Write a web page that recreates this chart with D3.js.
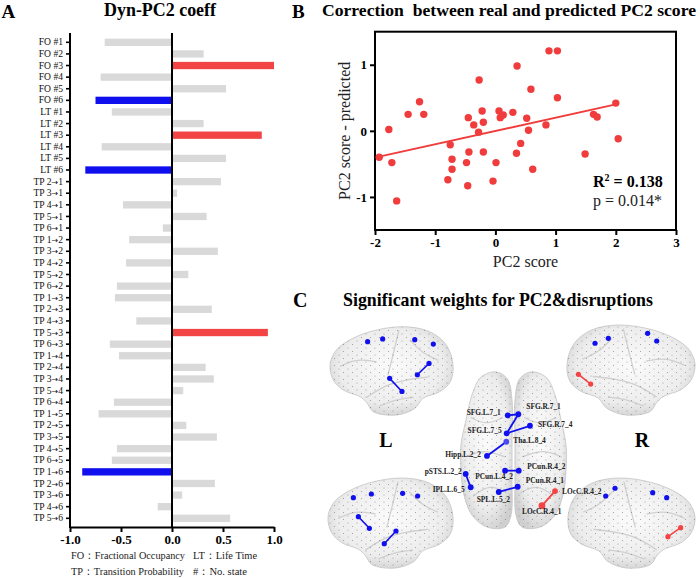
<!DOCTYPE html>
<html>
<head>
<meta charset="utf-8">
<script src="https://cdn.jsdelivr.net/npm/d3@7"></script>
<style>
  body { margin: 0; background: #fff; }
  svg { display: block; font-family: "Liberation Serif", "Times New Roman", serif; }
</style>
</head>
<body>
<div id="chart"></div>
<script>
// ---- Panel A data ----
const coeffLabels = [
    "FO #1", "FO #2", "FO #3", "FO #4", "FO #5", "FO #6",
    "LT #1", "LT #2", "LT #3", "LT #4", "LT #5", "LT #6",
    "TP 2→1", "TP 3→1", "TP 4→1", "TP 5→1", "TP 6→1",
    "TP 1→2", "TP 3→2", "TP 4→2", "TP 5→2", "TP 6→2",
    "TP 1→3", "TP 2→3", "TP 4→3", "TP 5→3", "TP 6→3",
    "TP 1→4", "TP 2→4", "TP 3→4", "TP 5→4", "TP 6→4",
    "TP 1→5", "TP 2→5", "TP 3→5", "TP 4→5", "TP 6→5",
    "TP 1→6", "TP 2→6", "TP 3→6", "TP 4→6", "TP 5→6"
];
const coeffValues = [
    -0.66, 0.31, 1.00, -0.70, 0.53, -0.75,
    -0.59, 0.31, 0.88, -0.69, 0.53, -0.85,
    0.48, 0.05, -0.48, 0.34, -0.09,
    -0.42, 0.45, -0.45, 0.16, -0.54,
    -0.56, 0.39, -0.35, 0.94, -0.61,
    -0.52, 0.33, 0.41, 0.11, -0.57,
    -0.72, 0.14, 0.44, -0.54, -0.59,
    -0.88, 0.42, 0.10, -0.14, 0.57
];
// "pos" = significant positive, "neg" = significant negative
const coeffSig = [
    "", "", "pos", "", "", "neg",
    "", "", "pos", "", "", "neg",
    "", "", "", "", "",
    "", "", "", "", "",
    "", "", "", "pos", "",
    "", "", "", "", "",
    "", "", "", "", "",
    "neg", "", "", "", ""
];
const coeffTicks = [-1, -0.5, 0, 0.5, 1];

// ---- Panel B data ----
const pc2Score = [
    -1.93, -1.77, -1.72, -1.64, -1.45, -1.26, -1.19, -0.79, -0.75, -0.72,
    -0.72, -0.48, -0.46, -0.45, -0.44, -0.36, -0.28, -0.27, -0.22, -0.20,
    -0.20, -0.04, 0.01, 0.06, 0.08, 0.13, 0.29, 0.35, 0.36, 0.42,
    0.52, 0.55, 0.59, 0.62, 0.84, 0.89, 1.03, 1.03, 1.49, 1.63,
    1.69, 2.00, 2.04
];
const pc2Diff = [
    -0.40, 0.02, -0.48, -1.06, 0.25, 0.44, 0.25, -0.74, -0.21, -0.43,
    -0.58, -0.48, -0.83, 0.20, -0.32, 0.09, -0.02, 0.77, 0.30, 0.13,
    -0.32, -0.76, -0.48, 0.30, 0.20, 0.24, 0.28, -0.34, 0.98, -0.19,
    0.19, 0.01, 0.63, -0.58, 0.09, 1.21, 1.21, 0.50, -0.35, 0.25,
    0.21, 0.42, -0.12
];
const fitX = [-1.93, 2.00];
const fitY = [-0.39, 0.40];
const scatterXTicks = [-2, -1, 0, 1, 2, 3];
const scatterYTicks = [-1, 0, 1];

// ---- Panel C data (positions normalised to each brain view) ----
const lateralOutline = [
    [0, 0.434], [0.041, 0.283], [0.135, 0.170], [0.324, 0.057], [0.595, 0],
    [0.811, 0.057], [0.946, 0.208], [1, 0.434], [0.978, 0.623], [0.892, 0.736],
    [0.757, 0.811], [0.689, 0.925], [0.541, 1], [0.351, 0.962], [0.297, 0.857],
    [0.243, 0.792], [0.108, 0.717], [0.027, 0.604]
];
const lateralSulci = [
    [[0.30, 0.80], [0.45, 0.66], [0.62, 0.60], [0.80, 0.57]],
    [[0.56, 0.04], [0.52, 0.28], [0.47, 0.55]],
    [[0.08, 0.45], [0.22, 0.36], [0.38, 0.40]],
    [[0.65, 0.15], [0.75, 0.30], [0.88, 0.38]],
    [[0.40, 0.90], [0.55, 0.82], [0.68, 0.80]]
];
const topOutline = [
    [0.299, 0.013], [0.187, 0.051], [0.112, 0.158], [0.056, 0.316], [0.009, 0.475],
    [0.009, 0.633], [0.037, 0.791], [0.112, 0.918], [0.252, 0.994], [0.421, 0.994],
    [0.477, 0.918], [0.486, 0.696], [0.486, 0.443], [0.486, 0.190], [0.449, 0.063],
    [0.374, 0.019]
];
const topSulci = [
    [[0.10, 0.30], [0.25, 0.35], [0.40, 0.30]],
    [[0.05, 0.55], [0.22, 0.50], [0.42, 0.55]],
    [[0.12, 0.80], [0.28, 0.72], [0.44, 0.78]]
];
const lateralViews = ["TL", "TR", "BL", "BR"];
const viewMirror = { TL: false, TR: true, BL: false, BR: true };
const lateralNodes = {
    TL: [[0.306, 0.170], [0.428, 0.139], [0.689, 0.147], [0.840, 0.197]],
    TR: [[0.219, 0.203], [0.323, 0.148], [0.630, 0.092], [0.701, 0.178]],
    BL: [[0.203, 0.219], [0.347, 0.178], [0.597, 0.170], [0.717, 0.200]],
    BR: [[0.297, 0.200], [0.370, 0.114], [0.667, 0.163], [0.777, 0.219]]
};
const lateralEdges = {
    TL: [[[0.805, 0.416], [0.710, 0.544], "neg"], [[0.485, 0.585], [0.585, 0.733], "neg"]],
    TR: [[[0.089, 0.548], [0.185, 0.656], "pos"]],
    BL: [[[0.243, 0.430], [0.331, 0.559], "neg"], [[0.544, 0.589], [0.450, 0.730], "neg"]],
    BR: [[[0.887, 0.552], [0.787, 0.652], "pos"]]
};
const regionNames = [
    "SFG.L.7_1", "SFG.R.7_1", "SFG.R.7_4", "SFG.L.7_5", "Tha.L.8_4", "Hipp.L.2_2",
    "pSTS.L.2_2", "IPL.L.6_5", "PCun.L.4_2", "PCun.R.4_2", "PCun.R.4_1", "SPL.L.5_2",
    "LOcC.R.4_2", "LOcC.R.4_1"
];
const regionX = [0.446, 0.545, 0.654, 0.436, 0.433, 0.252, 0.053, 0.100, 0.421, 0.549, 0.539, 0.362, 0.888, 0.766];
const regionY = [0.287, 0.280, 0.353, 0.401, 0.454, 0.544, 0.658, 0.742, 0.637, 0.637, 0.739, 0.772, 0.766, 0.859];
const regionSign = ["neg", "neg", "neg", "neg", "neg", "neg", "neg", "neg", "neg", "neg", "neg", "neg", "pos", "pos"];
const regionLinks = [
    ["SFG.L.7_1", "SFG.R.7_1"], ["SFG.R.7_1", "SFG.L.7_5"], ["SFG.L.7_5", "SFG.R.7_4"],
    ["Tha.L.8_4", "Hipp.L.2_2"], ["pSTS.L.2_2", "IPL.L.6_5"], ["PCun.L.4_2", "PCun.R.4_2"],
    ["SPL.L.5_2", "PCun.R.4_1"], ["LOcC.R.4_2", "LOcC.R.4_1"]
];
// label offsets in px and anchor
const labelPlace = {
    "SFG.L.7_1": [-7, 0, "end"], "SFG.R.7_1": [8, -5, "start"], "SFG.R.7_4": [8, 1, "start"],
    "SFG.L.7_5": [-5, 0, "end"], "Tha.L.8_4": [7, 1, "start"], "Hipp.L.2_2": [-6, 1.5, "end"],
    "pSTS.L.2_2": [-4, 0, "end"], "IPL.L.6_5": [-6, 4.5, "end"], "PCun.L.4_2": [-11, 8.5, "middle"],
    "PCun.R.4_2": [8.5, -1.5, "start"], "PCun.R.4_1": [8, -4, "start"], "SPL.L.5_2": [-22, 10, "start"],
    "LOcC.R.4_2": [7, 3, "start"], "LOcC.R.4_1": [-20, 8.5, "start"]
};

const colors = {
    pos: "#f24444",
    neg: "#1010ee",
    plain: "#d9d9d9",
    dot: "#f03c3c"
};

const svg = d3.select("#chart")
    .append("svg")
    .attr("width", 700)
    .attr("height", 578);

// helper: text squeezed/stretched to the width it has in the figure
function fitText(g, x, y, str, size, width, bold) {
    return g.append("text")
        .attr("x", x).attr("y", y)
        .attr("textLength", width)
        .attr("lengthAdjust", "spacingAndGlyphs")
        .attr("font-size", size)
        .attr("font-weight", bold ? "bold" : "normal")
        .text(str);
}

// =============== Panel A ===============
const xA = d3.scaleLinear().domain([-1, 1]).range([70, 274]);
const yA = d3.scaleBand()
    .domain(coeffLabels)
    .range([36.5, 524.1])
    .paddingInner(0.37)
    .paddingOuter(0.185);

const panelA = svg.append("g");

panelA.append("text")
    .attr("x", 1.5).attr("y", 17.5)
    .style("font-size", "19px").style("font-weight", "bold")
    .text("A");

fitText(panelA, 104, 16, "Dyn-PC2 coeff", 18, 112, true);

// bars
panelA.selectAll(".bar")
    .data(coeffValues)
    .enter()
    .append("rect")
    .attr("class", "bar")
    .attr("x", d => xA(Math.min(0, d)))
    .attr("y", (d, i) => yA(coeffLabels[i]))
    .attr("width", d => Math.abs(xA(d) - xA(0)))
    .attr("height", yA.bandwidth())
    .attr("fill", (d, i) => coeffSig[i] ? colors[coeffSig[i]] : colors.plain);

// y axis
const yAxisA = panelA.append("g")
    .attr("transform", `translate(${xA(-1)},0)`)
    .call(d3.axisLeft(yA).tickSize(4).tickSizeOuter(0).tickPadding(3));
yAxisA.select(".domain").remove();
yAxisA.selectAll("line").attr("stroke", "#000").attr("stroke-width", 1.6);
yAxisA.selectAll("text")
    .style("font-family", "Liberation Serif")
    .style("font-size", "9.6px")
    .attr("fill", "#111")
    .each(function(d) {
        // the arrow glyph is drawn with a font that has it
        const parts = d.split("→");
        if (parts.length < 2) return;
        const t = d3.select(this).text(null);
        t.append("tspan").text(parts[0]);
        t.append("tspan").style("font-family", "DejaVu Sans").style("font-size", "8px").text("→");
        t.append("tspan").text(parts[1]);
    });

panelA.append("line")
    .attr("x1", xA(-1)).attr("x2", xA(-1))
    .attr("y1", 33).attr("y2", 528)
    .attr("stroke", "#000").attr("stroke-width", 2);

// zero line
panelA.append("line")
    .attr("x1", xA(0)).attr("x2", xA(0))
    .attr("y1", 33).attr("y2", 527)
    .attr("stroke", "#000").attr("stroke-width", 2);

// x axis
const xAxisA = panelA.append("g")
    .attr("transform", "translate(0,527)")
    .call(d3.axisBottom(xA).tickValues(coeffTicks).tickFormat(d => d.toFixed(1)).tickSize(5).tickSizeOuter(0));
xAxisA.select(".domain").attr("stroke-width", 2);
xAxisA.selectAll("line").attr("stroke-width", 2);
xAxisA.selectAll("text")
    .style("font-family", "Liberation Serif")
    .style("font-size", "13px")
    .style("font-weight", "bold")
    .attr("fill", "#000");

// abbreviations
const noteText = ["FO：Fractional Occupancy", "LT：Life Time", "TP：Transition Probability", "#：No. state"];
const noteWidth = [114, 64, 113, 54];
noteText.forEach((t, i) => {
    fitText(panelA, i % 2 === 0 ? 71 : 193, 559 + Math.floor(i / 2) * 16, t, 10.5, noteWidth[i], false)
        .attr("fill", "#222");
});

// =============== Panel B ===============
const xB = d3.scaleLinear().domain([-2, 3]).range([375, 676]);
const yB = d3.scaleLinear().domain([-1.5, 1.5]).range([230, 31.7]);
const panelB = svg.append("g");

panelB.append("text")
    .attr("x", 292).attr("y", 17.5)
    .style("font-size", "19px").style("font-weight", "bold")
    .text("B");

fitText(panelB, 322, 16, "Correction\u00a0 between real and predicted PC2 score", 17, 374, true);

panelB.append("rect")
    .attr("x", xB(-2)).attr("y", yB(1.5))
    .attr("width", xB(3) - xB(-2)).attr("height", yB(-1.5) - yB(1.5))
    .attr("fill", "none").attr("stroke", "#000").attr("stroke-width", 2);

const xAxisB = panelB.append("g")
    .attr("transform", `translate(0,${yB(-1.5)})`)
    .call(d3.axisBottom(xB).tickValues(scatterXTicks).tickFormat(d => String(d)).tickSize(5).tickSizeOuter(0));
const yAxisB = panelB.append("g")
    .attr("transform", `translate(${xB(-2)},0)`)
    .call(d3.axisLeft(yB).tickValues(scatterYTicks).tickFormat(d => String(d)).tickSize(5).tickSizeOuter(0));
[xAxisB, yAxisB].forEach(ax => {
    ax.select(".domain").remove();
    ax.selectAll("line").attr("stroke-width", 2);
    ax.selectAll("text")
        .style("font-family", "Liberation Serif")
        .style("font-size", "13px")
        .style("font-weight", "bold")
        .attr("fill", "#000");
});

panelB.append("text")
    .attr("x", (xB(-2) + xB(3)) / 2).attr("y", 267)
    .attr("text-anchor", "middle")
    .style("font-size", "16px")
    .attr("fill", "#222")
    .text("PC2 score");

panelB.append("text")
    .attr("transform", `translate(350,${(yB(-1.5) + yB(1.5)) / 2}) rotate(-90)`)
    .attr("text-anchor", "middle")
    .style("font-size", "16px")
    .attr("fill", "#222")
    .text("PC2 score - predicted");

// fit line
panelB.append("line")
    .attr("x1", xB(fitX[0])).attr("y1", yB(fitY[0]))
    .attr("x2", xB(fitX[1])).attr("y2", yB(fitY[1]))
    .attr("stroke", colors.dot).attr("stroke-width", 1.8);

panelB.selectAll(".dot")
    .data(pc2Score)
    .enter()
    .append("circle")
    .attr("class", "dot")
    .attr("cx", d => xB(d))
    .attr("cy", (d, i) => yB(pc2Diff[i]))
    .attr("r", 3.7)
    .attr("fill", colors.dot);

const r2 = panelB.append("text")
    .attr("x", 593).attr("y", 187)
    .style("font-size", "16px").style("font-weight", "bold");
r2.append("tspan").text("R");
r2.append("tspan").attr("dy", -6).style("font-size", "10px").text("2");
r2.append("tspan").attr("dy", 6).text(" = 0.138");

panelB.append("text")
    .attr("x", 593).attr("y", 206)
    .style("font-size", "16px")
    .attr("fill", "#222")
    .text("p = 0.014*");

// =============== Panel C ===============
const panelC = svg.append("g");

panelC.append("text")
    .attr("x", 293).attr("y", 307)
    .style("font-size", "20px").style("font-weight", "bold")
    .text("C");

fitText(panelC, 343, 306, "Significant weights for PC2&disruptions", 17.8, 310, true);

panelC.append("text")
    .attr("x", 386).attr("y", 447)
    .attr("text-anchor", "middle")
    .style("font-size", "20px").style("font-weight", "bold")
    .text("L");
panelC.append("text")
    .attr("x", 642).attr("y", 447)
    .attr("text-anchor", "middle")
    .style("font-size", "20px").style("font-weight", "bold")
    .text("R");

const defs = svg.append("defs");
const grad = defs.append("radialGradient")
    .attr("id", "brainGrad")
    .attr("cx", "50%").attr("cy", "45%").attr("r", "60%");
grad.append("stop").attr("offset", "0%").attr("stop-color", "#fbfbfb");
grad.append("stop").attr("offset", "70%").attr("stop-color", "#ededed");
grad.append("stop").attr("offset", "100%").attr("stop-color", "#cfcfcf");

const dots = defs.append("pattern")
    .attr("id", "brainDots")
    .attr("patternUnits", "userSpaceOnUse")
    .attr("width", 9).attr("height", 7);
dots.append("circle").attr("cx", 1.5).attr("cy", 1.5).attr("r", 0.5).attr("fill", "#6a6a6a");
dots.append("circle").attr("cx", 6).attr("cy", 5).attr("r", 0.5).attr("fill", "#6a6a6a");

// view boxes for each brain [x0, x1, y0, y1]
const viewBoxes = {
    TL: [330, 453, 326.7, 415],
    TR: [567, 695, 325, 415],
    BL: [328, 453, 478, 568],
    BR: [568, 695, 478, 568],
    TOP: [460, 567, 370, 528]
};

function viewScales(key, mirror) {
    const b = viewBoxes[key];
    const sx = d3.scaleLinear().domain(mirror ? [1, 0] : [0, 1]).range([b[0], b[1]]);
    const sy = d3.scaleLinear().domain([0, 1]).range([b[2], b[3]]);
    return [sx, sy];
}

function drawShell(g, pts, sulci, sx, sy) {
    const shape = d3.line().x(p => sx(p[0])).y(p => sy(p[1])).curve(d3.curveCatmullRomClosed);
    g.append("path").attr("d", shape(pts))
        .attr("fill", "url(#brainGrad)")
        .attr("stroke", "#c4c4c4").attr("stroke-width", 0.8);
    const sulcus = d3.line().x(p => sx(p[0])).y(p => sy(p[1])).curve(d3.curveBasis);
    sulci.forEach(s => {
        g.append("path").attr("d", sulcus(s))
            .attr("fill", "none").attr("stroke", "#d0d0d0").attr("stroke-width", 1.3);
    });
    g.append("path").attr("d", shape(pts))
        .attr("fill", "url(#brainDots)").attr("opacity", 0.75);
}

lateralViews.forEach(key => {
    // outline may be flipped, node positions are read straight off the picture
    const [ox, oy] = viewScales(key, viewMirror[key]);
    const [sx, sy] = viewScales(key, false);
    const g = panelC.append("g");
    drawShell(g, lateralOutline, lateralSulci, ox, oy);

    lateralEdges[key].forEach(e => {
        const c = colors[e[2]];
        g.append("line")
            .attr("x1", sx(e[0][0])).attr("y1", sy(e[0][1]))
            .attr("x2", sx(e[1][0])).attr("y2", sy(e[1][1]))
            .attr("stroke", c).attr("stroke-width", 1.6);
        [e[0], e[1]].forEach(p => {
            g.append("circle").attr("cx", sx(p[0])).attr("cy", sy(p[1]))
                .attr("r", 2.6).attr("fill", c);
        });
    });

    g.selectAll(".node")
        .data(lateralNodes[key])
        .enter()
        .append("circle")
        .attr("cx", p => sx(p[0]))
        .attr("cy", p => sy(p[1]))
        .attr("r", 2.6)
        .attr("fill", colors.neg);
});

// superior view in the middle
const [tx, ty] = viewScales("TOP", false);
const [txm] = viewScales("TOP", true);
const topG = panelC.append("g");
drawShell(topG, topOutline, topSulci, txm, ty);
drawShell(topG, topOutline, topSulci, tx, ty);

const regionIndex = name => regionNames.indexOf(name);
regionLinks.forEach(([a, b]) => {
    const ia = regionIndex(a), ib = regionIndex(b);
    topG.append("line")
        .attr("x1", tx(regionX[ia])).attr("y1", ty(regionY[ia]))
        .attr("x2", tx(regionX[ib])).attr("y2", ty(regionY[ib]))
        .attr("stroke", colors[regionSign[ia]])
        .attr("stroke-width", 1.8);
});

topG.selectAll(".region")
    .data(regionNames)
    .enter()
    .append("circle")
    .attr("cx", (d, i) => tx(regionX[i]))
    .attr("cy", (d, i) => ty(regionY[i]))
    .attr("r", d => d === "LOcC.R.4_1" ? 3.4 : 2.9)
    .attr("fill", (d, i) => d === "Tha.L.8_4" ? "#4a4af0" : colors[regionSign[i]]);

topG.selectAll(".rlabel")
    .data(regionNames)
    .enter()
    .append("text")
    .attr("x", (d, i) => tx(regionX[i]) + labelPlace[d][0])
    .attr("y", (d, i) => ty(regionY[i]) + labelPlace[d][1])
    .attr("text-anchor", d => labelPlace[d][2])
    .style("font-size", "7.4px")
    .style("font-weight", "bold")
    .attr("fill", "#222")
    .text(d => d);
</script>
</body>
</html>
